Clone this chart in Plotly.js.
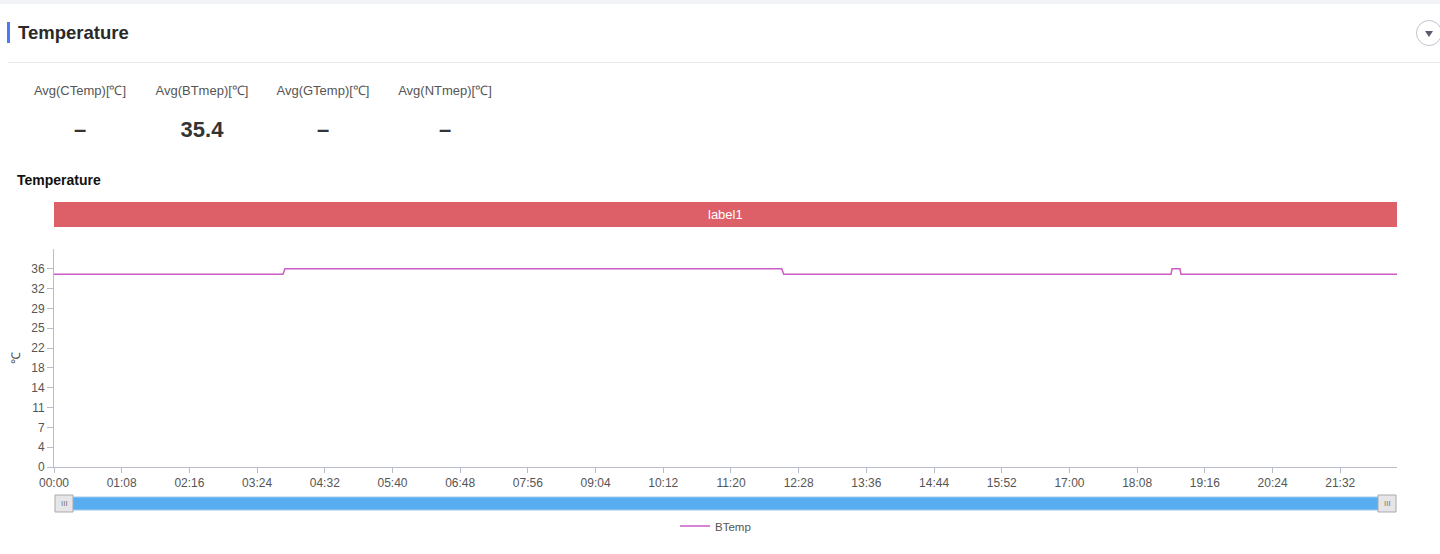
<!DOCTYPE html>
<html>
<head>
<meta charset="utf-8">
<script src="https://cdn.plot.ly/plotly-3.0.1.min.js"></script>
<style>
  html, body { margin:0; padding:0; width:1440px; height:554px; overflow:hidden; background:#fff;
    font-family: "Helvetica Neue", Helvetica, "Liberation Sans", Arial, sans-serif; }
  #topstrip { position:absolute; left:0; top:0; width:1440px; height:4px; background:#f2f3f7; }
  #hbar { position:absolute; left:7px; top:22px; width:3px; height:21px; background:#4b7bf5; }
  #htitle { position:absolute; left:18px; top:21px; font-size:18.5px; font-weight:600; color:#2a2a2a; line-height:24px; }
  #hline { position:absolute; left:8px; top:62px; width:1432px; height:1px; background:#e8e9ee; }
  #drop { position:absolute; left:1416px; top:20px; width:26px; height:26px; border:1px solid #c3c4cf; border-radius:50%; box-sizing:border-box; }
  #drop:after { content:""; position:absolute; left:8px; top:10px; border-left:4px solid transparent; border-right:4px solid transparent; border-top:6px solid #585c6e; }
  .stat { position:absolute; width:140px; text-align:center; }
  .slabel { position:absolute; top:83px; font-size:13px; color:#555; line-height:16px; }
  .sval { position:absolute; top:116px; font-size:22px; font-weight:700; color:#333; line-height:28px; }
  #sub { position:absolute; left:17px; top:171px; font-size:14px; font-weight:700; color:#111; line-height:18px; }
  #chart { position:absolute; left:0; top:190px; width:1440px; height:364px; }
</style>
</head>
<body>
<div id="topstrip"></div>
<div id="hbar"></div>
<div id="htitle">Temperature</div>
<div id="drop"></div>
<div id="hline"></div>
<div id="stats"></div>
<div id="sub">Temperature</div>
<div id="chart"></div>
<script>
// ---- data ----
const statLabels = ['Avg(CTemp)[℃]', 'Avg(BTmep)[℃]', 'Avg(GTemp)[℃]', 'Avg(NTmep)[℃]'];
const statValues = ['–', '35.4', '–', '–'];

const seriesName = 'BTemp';
const times = ['00:00','03:50','03:52','12:11','12:13','18:42','18:43','18:51','18:52','22:29'];
const values = [35, 35, 36, 36, 35, 35, 36, 36, 35, 35];

const yTickVals = [0, 3.6, 7.2, 10.8, 14.4, 18, 21.6, 25.2, 28.8, 32.4, 36];
const yTickText = ['0','4','7','11','14','18','22','25','29','32','36'];
const yMax = 39.6;
const bandLabel = 'label1';
const yTitle = '℃';

// ---- stats (HTML) ----
const statCenters = [80, 202, 323, 445];
const statsDiv = document.getElementById('stats');
statLabels.forEach((l, i) => {
  const a = document.createElement('div');
  a.className = 'stat slabel'; a.style.left = (statCenters[i] - 70) + 'px'; a.textContent = l;
  const b = document.createElement('div');
  b.className = 'stat sval'; b.style.left = (statCenters[i] - 70) + 'px'; b.textContent = statValues[i];
  statsDiv.appendChild(a); statsDiv.appendChild(b);
});

// ---- chart ----
const day = '2024-01-01 ';
const xs = times.map(t => day + t);

const trace = {
  x: xs, y: values, type: 'scatter', mode: 'lines', name: seriesName,
  line: { color: '#c95cc6', width: 1.5 },
  showlegend: true
};

const axisColor = '#b9bccb';
const tickFont = { family: '"Helvetica Neue", Helvetica, "Liberation Sans", Arial, sans-serif', size: 12, color: '#555' };

// paper-coordinate helpers relative to the plot area
const plotTop = 59, plotH = 218, plotL = 54, plotW = 1343;
const py = p => (plotTop + plotH - p) / plotH;       // pixel (within chart div) -> paper y
const px = p => (p - plotL) / plotW;                 // pixel -> paper x

const bandTop = 202 - 190, bandBot = 227 - 190;
const slTop = 497 - 190, slBot = 510 - 190;
const hTop = 495 - 190, hBot = 512 - 190;

const shapes = [
  { type:'rect', xref:'paper', yref:'paper', x0:0, x1:1, y0:py(bandBot), y1:py(bandTop),
    fillcolor:'#dd5f67', line:{ width:0 } },
  { type:'rect', xref:'paper', yref:'paper', x0:px(58), x1:px(1393), y0:py(slBot), y1:py(slTop),
    fillcolor:'#58adf0', line:{ color:'#9fcaf0', width:1 } },
  { type:'rect', xref:'paper', yref:'paper', x0:px(55), x1:px(73), y0:py(hBot), y1:py(hTop),
    fillcolor:'#e6e6e8', line:{ color:'#a9a9ae', width:1 } },
  { type:'rect', xref:'paper', yref:'paper', x0:px(1378), x1:px(1396), y0:py(hBot), y1:py(hTop),
    fillcolor:'#e6e6e8', line:{ color:'#a9a9ae', width:1 } }
];

const annotations = [
  { xref:'paper', yref:'paper', x:0.5, y:py((bandTop + bandBot) / 2), text: bandLabel, showarrow:false,
    font:{ size:13, color:'#fff' }, xanchor:'center', yanchor:'middle' },
  { xref:'paper', yref:'paper', x:px(64), y:py((hTop + hBot) / 2), text:'III', showarrow:false,
    font:{ size:8, color:'#777' }, xanchor:'center', yanchor:'middle' },
  { xref:'paper', yref:'paper', x:px(1387), y:py((hTop + hBot) / 2), text:'III', showarrow:false,
    font:{ size:8, color:'#777' }, xanchor:'center', yanchor:'middle' }
];

const layout = {
  width: 1440, height: 364,
  margin: { l: plotL, r: 1440 - plotL - plotW, t: plotTop, b: 364 - plotTop - plotH },
  paper_bgcolor: 'rgba(0,0,0,0)', plot_bgcolor: 'rgba(0,0,0,0)',
  font: tickFont,
  showlegend: true,
  legend: { orientation:'h', x:0.5 - 10 / plotW, xanchor:'center', y:py(526 - 190), yanchor:'middle',
    font:{ size:11.5, color:'#555' }, itemwidth:30 },
  xaxis: {
    type:'date', range:[day + '00:00', day + '22:29'],
    tick0: day + '00:00', dtick: 68 * 60 * 1000, tickformat:'%H:%M',
    showgrid:false, zeroline:false, showline:true, linecolor:axisColor, linewidth:1,
    ticks:'outside', ticklen:5, tickcolor:axisColor, tickfont:tickFont, fixedrange:true
  },
  yaxis: {
    range:[0, yMax], tickvals:yTickVals, ticktext:yTickText,
    showgrid:false, zeroline:false, showline:true, linecolor:axisColor, linewidth:1,
    ticks:'outside', ticklen:6, tickcolor:axisColor, tickfont:tickFont,
    title:{ text:yTitle, standoff:8, font:{ size:12, color:'#444' } }, automargin:false, fixedrange:true
  },
  shapes: shapes,
  annotations: annotations
};

Plotly.newPlot('chart', [trace], layout, { displayModeBar:false, staticPlot:true });
</script>
</body>
</html>
